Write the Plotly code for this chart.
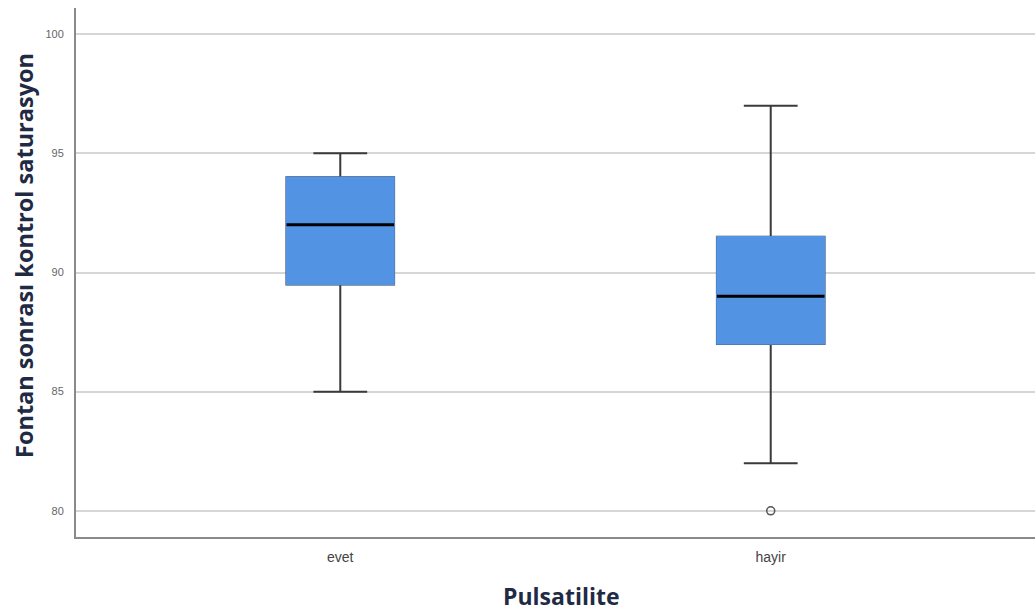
import plotly.graph_objects as go

categories = ["evet", "hayir"]
q1 = [89.5, 87.0]
median = [92.0, 89.0]
q3 = [94.0, 91.5]
lower = [85.0, 82.0]
upper = [95.0, 97.0]
outlier_cat = ["hayir"]
outlier_val = [80.0]
yticks = [80, 85, 90, 95, 100]

BOX_W = 0.25
BLUE = "#5393e4"
TITLE_FONT_Y = dict(family="Open Sans, Lato, sans-serif", size=23.5, color="#1f2a44", weight="bold")
TITLE_FONT_X = dict(family="Open Sans, Lato, sans-serif", size=23, color="#1f2a44", weight="bold")
pos = list(range(len(categories)))

fig = go.Figure()
# whiskers (dark)
fig.add_trace(go.Box(x=pos, q1=q1, median=median, q3=q3, lowerfence=lower, upperfence=upper,
                     width=BOX_W, whiskerwidth=0.5, fillcolor=BLUE,
                     line=dict(color="#3a3a3a", width=2), boxpoints=False, showlegend=False,
                     hoverinfo="skip"))
# box body in blue covering dark outline
fig.add_trace(go.Box(x=pos, q1=q1, median=median, q3=q3, lowerfence=q1, upperfence=q3,
                     width=BOX_W, whiskerwidth=0.0, fillcolor=BLUE,
                     line=dict(color=BLUE, width=1.5), boxpoints=False, showlegend=False,
                     hoverinfo="skip"))
# medians
mx, my = [], []
for p, m in zip(pos, median):
    mx += [p - BOX_W / 2, p + BOX_W / 2, None]
    my += [m, m, None]
fig.add_trace(go.Scatter(x=mx, y=my, mode="lines", line=dict(color="black", width=3),
                         showlegend=False, hoverinfo="skip"))
# outliers
fig.add_trace(go.Scatter(x=[categories.index(c) for c in outlier_cat], y=outlier_val,
                         mode="markers", marker=dict(symbol="circle-open", size=8,
                                                     color="#555", line=dict(width=1.5)),
                         showlegend=False, hoverinfo="skip"))

fig.update_layout(
    width=1035, height=613, margin=dict(l=76, r=0, t=8, b=76),
    plot_bgcolor="white", paper_bgcolor="white", boxmode="overlay",
    font=dict(family="Liberation Sans, Arial, sans-serif"),
    xaxis=dict(range=[-0.614, 1.614], tickvals=pos, ticktext=categories,
               showgrid=False, zeroline=False, showline=True, linecolor="#8a8a8a", linewidth=2,
               tickfont=dict(size=14, color="#444"), ticks="", ticklabelstandoff=6),
    yaxis=dict(range=[78.9, 101.1], tickvals=yticks, showgrid=True, gridcolor="#d6d6d6",
               gridwidth=2, zeroline=False, showline=True, linecolor="#8a8a8a", linewidth=2,
               tickfont=dict(size=11, color="#666"), ticks="", ticklabelstandoff=8),
    annotations=[
        dict(text="Fontan sonrası kontrol saturasyon", xref="paper", yref="paper",
             x=0, y=(537 - 256) / 529, xshift=-52, xanchor="center", yanchor="middle",
             textangle=-90, showarrow=False, font=TITLE_FONT_Y),
        dict(text="Pulsatilite", xref="paper", yref="paper", x=0.5, y=0, xshift=6,
             yshift=-59, xanchor="center", yanchor="middle", showarrow=False, font=TITLE_FONT_X),
    ],
)

fig.write_html("out.html")
